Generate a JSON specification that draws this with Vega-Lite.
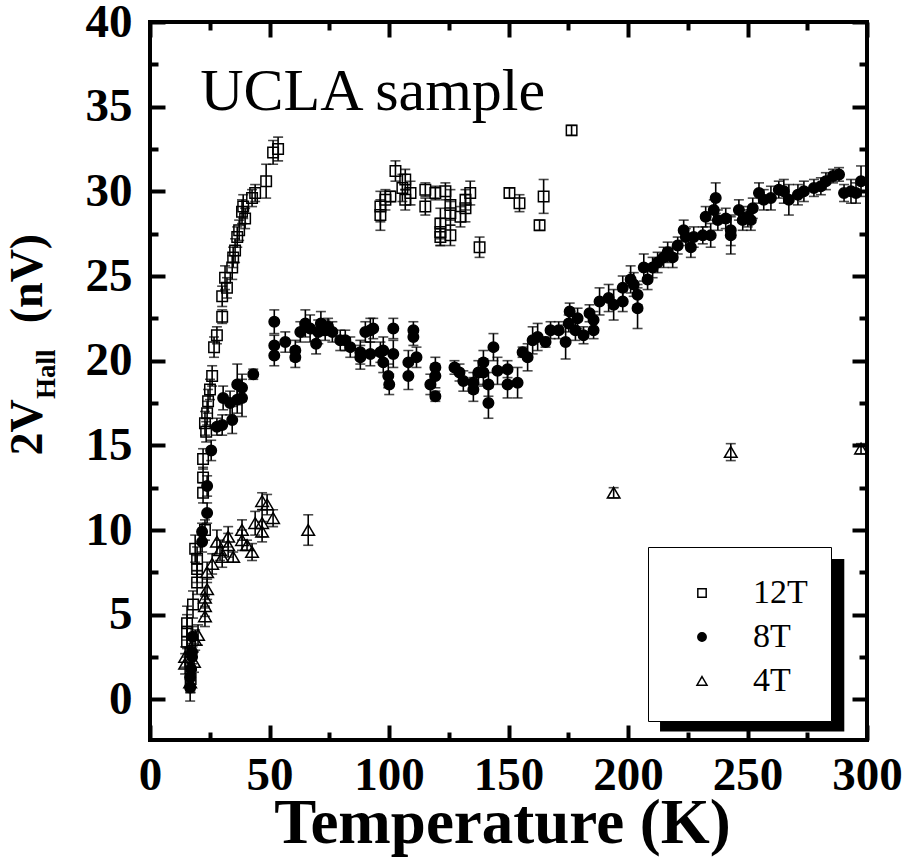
{
  "$schema": "https://vega.github.io/schema/vega-lite/v6.json",
  "width": 717,
  "height": 718,
  "autosize": {"type": "none"},
  "padding": {"left": 150, "top": 22, "right": 38, "bottom": 122},
  "background": "white",
  "datasets": {
    "pts": [
      {"B":"12T","T":17,"V":1.2,"e":0.8},{"B":"12T","T":15.5,"V":3.4,"e":0.9},{"B":"12T","T":15.5,"V":4.0,"e":1.0},{"B":"12T","T":15.5,"V":4.5,"e":1.0},{"B":"12T","T":18,"V":5.6,"e":0.8},{"B":"12T","T":19.7,"V":6.9,"e":0.7},{"B":"12T","T":19.7,"V":7.7,"e":0.8},{"B":"12T","T":19.7,"V":8.3,"e":0.7},{"B":"12T","T":18.9,"V":8.9,"e":0.8},{"B":"12T","T":23,"V":10.0,"e":0.6},{"B":"12T","T":22.2,"V":12.2,"e":0.6},{"B":"12T","T":22.2,"V":13.1,"e":0.6},{"B":"12T","T":22.2,"V":14.2,"e":0.6},{"B":"12T","T":23.5,"V":15.8,"e":0.6},{"B":"12T","T":23,"V":16.3,"e":0.7},{"B":"12T","T":23.9,"V":16.9,"e":0.7},{"B":"12T","T":24.3,"V":17.6,"e":0.7},{"B":"12T","T":25.1,"V":18.3,"e":0.6},{"B":"12T","T":26,"V":19.1,"e":0.6},{"B":"12T","T":26.8,"V":20.8,"e":0.6},{"B":"12T","T":28,"V":21.5,"e":0.5},{"B":"12T","T":30.2,"V":22.6,"e":0.4},{"B":"12T","T":30.2,"V":23.8,"e":0.6},{"B":"12T","T":32.2,"V":24.3,"e":0.6},{"B":"12T","T":31.4,"V":24.9,"e":0.7},{"B":"12T","T":34.4,"V":25.5,"e":0.7},{"B":"12T","T":34.8,"V":26.1,"e":0.6},{"B":"12T","T":35.6,"V":26.5,"e":0.7},{"B":"12T","T":36.5,"V":27.3,"e":0.6},{"B":"12T","T":37.3,"V":27.7,"e":0.6},{"B":"12T","T":39.8,"V":28.4,"e":0.6},{"B":"12T","T":38.5,"V":28.8,"e":0.7},{"B":"12T","T":39,"V":29.1,"e":0.7},{"B":"12T","T":42.7,"V":29.6,"e":0.5},{"B":"12T","T":44,"V":29.9,"e":0.5},{"B":"12T","T":48.6,"V":30.6,"e":1.0},{"B":"12T","T":51.5,"V":32.3,"e":0.7},{"B":"12T","T":53.6,"V":32.5,"e":0.7},
      {"B":"12T","T":96.4,"V":28.6,"e":0.9},{"B":"12T","T":96.4,"V":29.1,"e":0.9},{"B":"12T","T":98.5,"V":29.5,"e":0.6},{"B":"12T","T":100.6,"V":29.7,"e":0.3},{"B":"12T","T":102.7,"V":31.2,"e":0.6},{"B":"12T","T":105.6,"V":30.2,"e":0.8},{"B":"12T","T":106.8,"V":30.7,"e":0.6},{"B":"12T","T":106.8,"V":29.5,"e":0.6},{"B":"12T","T":109,"V":29.9,"e":0.7},{"B":"12T","T":115.2,"V":30.1,"e":0.4},{"B":"12T","T":115.2,"V":29.1,"e":0.5},{"B":"12T","T":119.4,"V":29.9,"e":0.4},{"B":"12T","T":121.5,"V":28.1,"e":0.9},{"B":"12T","T":121.5,"V":27.6,"e":0.8},{"B":"12T","T":121.5,"V":27.3,"e":0.5},{"B":"12T","T":123.6,"V":30.0,"e":0.5},{"B":"12T","T":125.7,"V":29.2,"e":0.9},{"B":"12T","T":125.7,"V":28.7,"e":0.7},{"B":"12T","T":125.7,"V":27.4,"e":0.6},{"B":"12T","T":129.9,"V":28.5,"e":0.6},{"B":"12T","T":132,"V":29.5,"e":0.6},{"B":"12T","T":132,"V":29.0,"e":0.8},{"B":"12T","T":134,"V":29.9,"e":0.7},{"B":"12T","T":137.9,"V":26.7,"e":0.6},{"B":"12T","T":150.4,"V":29.9,"e":0.3},{"B":"12T","T":154.6,"V":29.3,"e":0.5},{"B":"12T","T":163,"V":28.0,"e":0.3},{"B":"12T","T":164.7,"V":29.7,"e":1.0},{"B":"12T","T":176.4,"V":33.6,"e":0.29},
      {"B":"8T","T":16.8,"V":0.7,"e":0.8},{"B":"8T","T":16.8,"V":1.3,"e":0.8},{"B":"8T","T":17.2,"V":1.8,"e":0.7},{"B":"8T","T":17.6,"V":2.5,"e":0.8},{"B":"8T","T":17.6,"V":2.8,"e":0.7},{"B":"8T","T":17.8,"V":3.7,"e":0.6},{"B":"8T","T":21.8,"V":9.3,"e":0.6},{"B":"8T","T":21.8,"V":9.9,"e":0.5},{"B":"8T","T":23.9,"V":11.0,"e":0.6},{"B":"8T","T":23.9,"V":12.6,"e":0.6},{"B":"8T","T":25.6,"V":14.7,"e":0.6},{"B":"8T","T":28,"V":16.1,"e":0.5},{"B":"8T","T":30.2,"V":16.2,"e":0.6},{"B":"8T","T":34.4,"V":16.5,"e":0.8},{"B":"8T","T":30.6,"V":17.8,"e":0.7},{"B":"8T","T":33.5,"V":17.5,"e":0.7},{"B":"8T","T":36.5,"V":17.7,"e":0.8},{"B":"8T","T":36.5,"V":18.6,"e":1.2},{"B":"8T","T":38.5,"V":18.4,"e":0.8},{"B":"8T","T":38.5,"V":17.8,"e":1.1},{"B":"8T","T":43.2,"V":19.2,"e":0.3},
      {"B":"8T","T":52,"V":22.3,"e":0.7},{"B":"8T","T":52,"V":20.9,"e":0.6},{"B":"8T","T":52,"V":20.3,"e":0.6},{"B":"8T","T":56.6,"V":21.1,"e":0.6},{"B":"8T","T":60.8,"V":20.6,"e":0.6},{"B":"8T","T":60.8,"V":20.2,"e":0.6},{"B":"8T","T":62.9,"V":21.7,"e":0.6},{"B":"8T","T":65,"V":22.2,"e":0.8},{"B":"8T","T":67,"V":21.9,"e":0.8},{"B":"8T","T":69.5,"V":21.0,"e":0.6},{"B":"8T","T":70.4,"V":21.7,"e":0.7},{"B":"8T","T":71.5,"V":22.2,"e":0.7},{"B":"8T","T":73.3,"V":21.8,"e":0.6},{"B":"8T","T":74.5,"V":22.0,"e":0.5},{"B":"8T","T":76.3,"V":21.7,"e":0.6},{"B":"8T","T":79.6,"V":21.2,"e":0.6},{"B":"8T","T":81.7,"V":21.2,"e":0.6},{"B":"8T","T":83.8,"V":20.8,"e":0.6},{"B":"8T","T":88,"V":20.5,"e":0.7},{"B":"8T","T":88,"V":20.2,"e":0.7},{"B":"8T","T":90.1,"V":21.7,"e":0.6},{"B":"8T","T":92.2,"V":21.8,"e":0.7},{"B":"8T","T":93.4,"V":21.9,"e":0.6},{"B":"8T","T":92.2,"V":20.4,"e":0.7},{"B":"8T","T":96.4,"V":20.5,"e":0.6},{"B":"8T","T":97.6,"V":20.6,"e":0.8},{"B":"8T","T":97.6,"V":19.9,"e":0.6},{"B":"8T","T":99.7,"V":19.1,"e":0.7},{"B":"8T","T":100.1,"V":18.6,"e":0.6},{"B":"8T","T":101.8,"V":21.9,"e":0.6},{"B":"8T","T":101.8,"V":20.4,"e":0.8},{"B":"8T","T":108.1,"V":19.9,"e":0.7},{"B":"8T","T":108.1,"V":19.1,"e":0.8},{"B":"8T","T":110.2,"V":21.8,"e":0.5},{"B":"8T","T":110.2,"V":21.4,"e":0.5},{"B":"8T","T":111.5,"V":20.2,"e":0.6},{"B":"8T","T":117.3,"V":18.6,"e":0.6},{"B":"8T","T":119.4,"V":19.6,"e":0.6},{"B":"8T","T":119.4,"V":19.1,"e":0.7},{"B":"8T","T":119.4,"V":17.9,"e":0.3},{"B":"8T","T":127.4,"V":19.6,"e":0.4},{"B":"8T","T":129.5,"V":19.3,"e":0.5},{"B":"8T","T":131.1,"V":18.8,"e":0.6},{"B":"8T","T":135.3,"V":18.7,"e":0.6},{"B":"8T","T":135.3,"V":18.3,"e":0.7},{"B":"8T","T":137.4,"V":19.3,"e":0.7},{"B":"8T","T":139.5,"V":19.9,"e":0.7},{"B":"8T","T":139.5,"V":19.3,"e":0.8},{"B":"8T","T":141.6,"V":18.6,"e":0.7},{"B":"8T","T":141.6,"V":17.5,"e":0.9},{"B":"8T","T":143.7,"V":20.8,"e":0.8},{"B":"8T","T":145.4,"V":19.4,"e":0.8},{"B":"8T","T":149.6,"V":19.5,"e":0.5},{"B":"8T","T":149.6,"V":18.6,"e":0.8},{"B":"8T","T":153.8,"V":18.7,"e":0.9},{"B":"8T","T":155.9,"V":20.5,"e":0.3},{"B":"8T","T":158,"V":20.2,"e":0.8},{"B":"8T","T":160.1,"V":21.2,"e":0.8},{"B":"8T","T":162.2,"V":21.4,"e":0.8},{"B":"8T","T":165.5,"V":21.1,"e":0.3},{"B":"8T","T":167.6,"V":21.8,"e":0.5},{"B":"8T","T":171,"V":21.8,"e":0.5},{"B":"8T","T":173.9,"V":21.1,"e":1.0},{"B":"8T","T":175.2,"V":22.2,"e":0.5},{"B":"8T","T":175.6,"V":22.9,"e":0.5},{"B":"8T","T":178,"V":21.8,"e":0.6},{"B":"8T","T":178.9,"V":22.5,"e":0.6},
      {"B":"8T","T":181.4,"V":21.5,"e":0.5},{"B":"8T","T":183.9,"V":22.8,"e":0.5},{"B":"8T","T":185.6,"V":21.8,"e":0.5},{"B":"8T","T":185.6,"V":22.4,"e":0.5},{"B":"8T","T":188.1,"V":23.5,"e":0.8},{"B":"8T","T":191.9,"V":23.7,"e":0.8},{"B":"8T","T":194,"V":23.3,"e":0.9},{"B":"8T","T":197.8,"V":24.3,"e":0.7},{"B":"8T","T":197.8,"V":23.5,"e":0.6},{"B":"8T","T":201.1,"V":24.8,"e":0.8},{"B":"8T","T":202.4,"V":24.5,"e":0.7},{"B":"8T","T":204,"V":23.1,"e":1.2},{"B":"8T","T":204,"V":23.9,"e":0.6},{"B":"8T","T":206.6,"V":25.5,"e":0.8},{"B":"8T","T":208.2,"V":24.8,"e":0.6},{"B":"8T","T":210.3,"V":25.5,"e":0.6},{"B":"8T","T":212.4,"V":25.8,"e":0.6},{"B":"8T","T":214.9,"V":26.1,"e":0.6},{"B":"8T","T":216.6,"V":26.4,"e":0.6},{"B":"8T","T":218.7,"V":26.1,"e":0.6},{"B":"8T","T":220.8,"V":26.8,"e":0.5},{"B":"8T","T":223.3,"V":27.7,"e":0.6},{"B":"8T","T":224.2,"V":27.3,"e":0.5},{"B":"8T","T":226.3,"V":26.7,"e":0.6},{"B":"8T","T":227.5,"V":27.3,"e":0.6},{"B":"8T","T":231.3,"V":27.4,"e":0.5},{"B":"8T","T":234.6,"V":27.4,"e":0.7},{"B":"8T","T":232.5,"V":28.5,"e":0.6},{"B":"8T","T":235.9,"V":28.9,"e":0.6},{"B":"8T","T":236.7,"V":29.6,"e":0.9},{"B":"8T","T":237.6,"V":28.3,"e":0.6},{"B":"8T","T":240.9,"V":28.4,"e":0.6},{"B":"8T","T":243,"V":27.7,"e":0.9},{"B":"8T","T":243,"V":27.4,"e":1.1},{"B":"8T","T":246.4,"V":28.9,"e":0.6},{"B":"8T","T":248,"V":28.3,"e":0.6},{"B":"8T","T":250.1,"V":28.5,"e":0.6},{"B":"8T","T":251.4,"V":28.3,"e":0.6},{"B":"8T","T":252.2,"V":29.0,"e":0.6},{"B":"8T","T":254.8,"V":29.9,"e":0.6},{"B":"8T","T":256.8,"V":29.5,"e":0.6},{"B":"8T","T":259.8,"V":29.6,"e":0.7},{"B":"8T","T":263.1,"V":30.1,"e":0.5},{"B":"8T","T":265.2,"V":30.0,"e":0.7},{"B":"8T","T":267.3,"V":29.5,"e":0.9},{"B":"8T","T":271.1,"V":29.8,"e":0.6},{"B":"8T","T":273.6,"V":30.0,"e":0.6},{"B":"8T","T":277.8,"V":30.2,"e":0.5},{"B":"8T","T":280.7,"V":30.3,"e":0.5},{"B":"8T","T":282.8,"V":30.6,"e":0.5},{"B":"8T","T":285.8,"V":30.9,"e":0.4},{"B":"8T","T":288.3,"V":31.0,"e":0.4},{"B":"8T","T":290.4,"V":29.9,"e":0.5},{"B":"8T","T":293.3,"V":30.0,"e":0.7},{"B":"8T","T":295.4,"V":29.9,"e":0.6},{"B":"8T","T":297.5,"V":30.6,"e":0.9},
      {"B":"4T","T":14.7,"V":2.1,"e":0.6},{"B":"4T","T":14.7,"V":2.5,"e":0.6},{"B":"4T","T":16.8,"V":1.0,"e":0.6},{"B":"4T","T":18.4,"V":2.2,"e":0.6},{"B":"4T","T":18.9,"V":3.5,"e":0.6},{"B":"4T","T":20.1,"V":3.8,"e":0.6},{"B":"4T","T":23,"V":4.9,"e":0.6},{"B":"4T","T":23,"V":5.5,"e":0.6},{"B":"4T","T":23,"V":6.0,"e":0.6},{"B":"4T","T":23.9,"V":6.5,"e":0.6},{"B":"4T","T":23.9,"V":7.5,"e":0.6},{"B":"4T","T":26,"V":8.0,"e":0.6},{"B":"4T","T":28,"V":9.3,"e":0.7},{"B":"4T","T":29.3,"V":8.8,"e":0.6},{"B":"4T","T":30.2,"V":8.4,"e":0.6},{"B":"4T","T":32.7,"V":9.6,"e":0.6},{"B":"4T","T":32.7,"V":9.1,"e":0.7},{"B":"4T","T":34.8,"V":8.4,"e":0.3},{"B":"4T","T":38.5,"V":10.0,"e":0.6},{"B":"4T","T":38.5,"V":9.4,"e":0.6},{"B":"4T","T":40.6,"V":9.1,"e":0.3},{"B":"4T","T":42.7,"V":8.7,"e":0.5},{"B":"4T","T":44,"V":10.4,"e":0.7},{"B":"4T","T":46.9,"V":11.7,"e":0.5},{"B":"4T","T":46.9,"V":10.4,"e":0.8},{"B":"4T","T":46.9,"V":9.9,"e":0.6},{"B":"4T","T":49,"V":11.5,"e":0.6},{"B":"4T","T":51.5,"V":10.7,"e":0.5},{"B":"4T","T":66.2,"V":10.0,"e":0.9},{"B":"4T","T":194,"V":12.2,"e":0.3},{"B":"4T","T":243,"V":14.6,"e":0.5},{"B":"4T","T":297.5,"V":14.8,"e":0.3}
    ]
  },
  "layer": [
    {
      "data": {"values": [{}]},
      "mark": {"type": "rect", "color": "black"},
      "encoding": {
        "x": {"datum": 213.4, "type": "quantitative", "scale": {"domain": [0, 300], "nice": false, "zero": false}, "axis": null},
        "x2": {"datum": 290.5},
        "y": {"datum": 8.29, "type": "quantitative", "scale": {"domain": [-2.4, 40], "nice": false, "zero": false}, "axis": null},
        "y2": {"datum": -1.9}
      }
    },
    {
      "data": {"name": "pts"},
      "mark": {"type": "errorbar", "color": "black", "thickness": 1.6, "ticks": {"size": 10, "color": "black"}},
      "encoding": {
        "x": {"field": "T", "type": "quantitative", "scale": {"domain": [0, 300], "nice": false, "zero": false},
              "axis": {"orient": "top", "values": [0, 50, 100, 150, 200, 250, 300], "tickSize": -15, "labels": false, "title": null}},
        "y": {"field": "V", "type": "quantitative", "scale": {"domain": [-2.4, 40], "nice": false, "zero": false},
              "axis": {"orient": "right", "values": [0, 5, 10, 15, 20, 25, 30, 35, 40], "tickSize": -15, "labels": false, "title": null}},
        "yError": {"field": "e"}
      }
    },
    {
      "data": {"name": "pts"},
      "mark": {"type": "point", "filled": true, "strokeWidth": 1.5, "size": 110, "opacity": 1},
      "encoding": {
        "x": {"field": "T", "type": "quantitative", "scale": {"domain": [0, 300], "nice": false, "zero": false},
              "axis": {"orient": "bottom", "values": [0, 50, 100, 150, 200, 250, 300], "tickSize": -15, "labelPadding": 27, "labelFlush": false, "labelOverlap": false, "title": "Temperature (K)", "titleFontSize": 63, "titlePadding": -6, "titleX": 352}},
        "y": {"field": "V", "type": "quantitative", "scale": {"domain": [-2.4, 40], "nice": false, "zero": false},
              "axis": {"orient": "left", "values": [0, 5, 10, 15, 20, 25, 30, 35, 40], "tickSize": -15, "labelPadding": 33, "labelFlush": false, "labelOverlap": false, "title": null}},
        "shape": {"field": "B", "type": "nominal", "scale": {"domain": ["12T", "8T", "4T"], "range": ["square", "circle", "M0,-1.05L1.2,1L-1.2,1Z"]}, "legend": {"title": "\u00a0"}},
        "fill": {"field": "B", "type": "nominal", "scale": {"domain": ["12T", "8T", "4T"], "range": ["transparent", "black", "transparent"]}, "legend": {"title": "\u00a0"}},
        "stroke": {"field": "B", "type": "nominal", "scale": {"domain": ["12T", "8T", "4T"], "range": ["black", "black", "black"]}, "legend": {"title": "\u00a0"}}
      }
    },
    {
      "data": {"values": [{}]},
      "mark": {"type": "text", "text": "UCLA sample", "font": "Liberation Serif", "fontSize": 60, "align": "left", "baseline": "alphabetic", "color": "black"},
      "encoding": {
        "x": {"datum": 21, "type": "quantitative", "scale": {"domain": [0, 300], "nice": false, "zero": false},
              "axis": {"orient": "bottom", "values": [25, 75, 125, 175, 225, 275], "tickSize": -8, "labels": false, "title": null}},
        "y": {"datum": 34.8, "type": "quantitative", "scale": {"domain": [-2.4, 40], "nice": false, "zero": false},
              "axis": {"orient": "left", "values": [2.5, 7.5, 12.5, 17.5, 22.5, 27.5, 32.5, 37.5], "tickSize": -8, "labels": false, "title": null}}
      }
    },
    {
      "data": {"values": [{}]},
      "mark": {"type": "text", "text": "2V", "font": "Liberation Serif", "fontSize": 46, "fontWeight": "bold", "angle": 270, "align": "center", "baseline": "alphabetic", "color": "black"},
      "encoding": {
        "x": {"datum": -45.0, "type": "quantitative", "scale": {"domain": [0, 300], "nice": false, "zero": false},
              "axis": {"orient": "top", "values": [25, 75, 125, 175, 225, 275], "tickSize": -8, "labels": false, "title": null}},
        "y": {"datum": 16.06, "type": "quantitative", "scale": {"domain": [-2.4, 40], "nice": false, "zero": false},
              "axis": {"orient": "right", "values": [2.5, 7.5, 12.5, 17.5, 22.5, 27.5, 32.5, 37.5], "tickSize": -8, "labels": false, "title": null}}
      }
    },
    {
      "data": {"values": [{}]},
      "mark": {"type": "text", "text": "Hall", "font": "Liberation Serif", "fontSize": 27, "fontWeight": "bold", "angle": 270, "align": "center", "baseline": "alphabetic", "color": "black"},
      "encoding": {
        "x": {"datum": -39.6, "type": "quantitative", "axis": null},
        "y": {"datum": 19.2, "type": "quantitative", "axis": null}
      }
    },
    {
      "data": {"values": [{}]},
      "mark": {"type": "text", "text": "(nV)", "font": "Liberation Serif", "fontSize": 46, "fontWeight": "bold", "angle": 270, "align": "center", "baseline": "alphabetic", "color": "black"},
      "encoding": {
        "x": {"datum": -45.0, "type": "quantitative", "axis": null},
        "y": {"datum": 24.85, "type": "quantitative", "axis": null}
      }
    }
  ],
  "resolve": {"axis": {"x": "independent", "y": "independent"}},
  "config": {
    "view": {"stroke": "black", "strokeWidth": 4},
    "axis": {
      "domain": false, "grid": false, "ticks": true, "tickColor": "black", "tickWidth": 4,
      "labelFont": "Liberation Serif", "labelFontWeight": "bold", "labelFontSize": 47, "labelColor": "black",
      "titleFont": "Liberation Serif", "titleFontWeight": "bold", "titleColor": "black"
    },
    "legend": {
      "orient": "none", "legendX": 498, "legendY": 525,
      "fillColor": "white", "strokeColor": "black", "padding": 23,
      "titleFontSize": 6, "titlePadding": 0, "titleFont": "Liberation Serif",
      "labelFont": "Liberation Serif", "labelFontSize": 34, "labelColor": "black",
      "symbolSize": 70, "symbolStrokeWidth": 1.5, "symbolStrokeColor": "black",
      "labelOffset": 34, "symbolOffset": 14, "rowPadding": 10
    }
  }
}
